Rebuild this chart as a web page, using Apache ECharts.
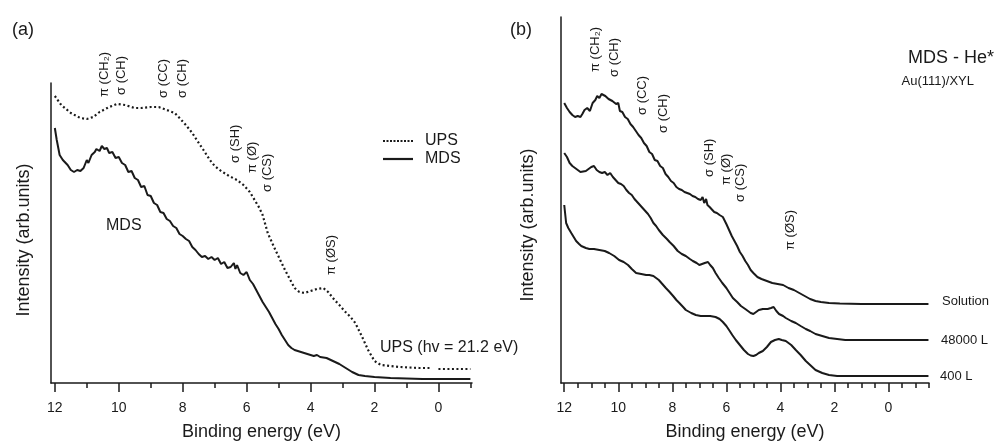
<!DOCTYPE html>
<html>
<head>
<meta charset="utf-8">
<script src="https://cdn.jsdelivr.net/npm/echarts@6/dist/echarts.min.js"></script>
<style>
  html, body { margin: 0; padding: 0; background: #fff; }
  #chart { width: 996px; height: 446px; }
</style>
</head>
<body>
<div id="chart"></div>
<script>
// binding energy (eV) / intensity (arb. units)
const upsA = [
  [12.0, 287], [11.8, 278], [11.5, 270], [11.2, 265], [11.0, 264], [10.8, 266], [10.6, 271],
  [10.3, 276], [10.05, 279], [9.8, 278], [9.5, 275], [9.3, 275], [9.0, 276], [8.75, 276],
  [8.5, 273], [8.25, 270], [8.1, 265], [7.9, 258], [7.7, 250], [7.56, 243], [7.35, 233],
  [7.15, 223], [7.0, 217], [6.8, 212], [6.55, 207], [6.3, 203], [6.1, 198], [5.9, 191],
  [5.75, 183], [5.6, 175], [5.5, 168], [5.34, 150], [5.2, 140], [5.1, 133], [4.95, 123],
  [4.8, 113], [4.65, 104], [4.5, 95], [4.35, 91], [4.2, 90], [4.0, 92], [3.8, 94], [3.6, 95],
  [3.45, 91], [3.25, 83], [3.1, 78], [2.94, 72], [2.75, 66], [2.6, 60], [2.4, 47], [2.2, 33],
  [2.0, 22], [1.8, 18], [1.5, 17], [1.2, 16], [0.9, 15.5], [0.6, 15], [0.25, 15], [0.1, '-'],
  [0.0, 14], [-0.6, 14], [-1.0, 14]
];
const mdsA = [
  [12.0, 255], [11.94, 243], [11.85, 228], [11.75, 223], [11.6, 218], [11.5, 213], [11.4, 211],
  [11.3, 213], [11.2, 212], [11.1, 215], [11.0, 223], [10.95, 220], [10.85, 228], [10.75, 231],
  [10.7, 234], [10.6, 232], [10.53, 237], [10.45, 234], [10.37, 235], [10.3, 230], [10.2, 231],
  [10.1, 225], [10.0, 226], [9.9, 220], [9.8, 218], [9.7, 211], [9.6, 212], [9.5, 205],
  [9.4, 203], [9.3, 196], [9.2, 197], [9.1, 188], [9.0, 187], [8.9, 180], [8.8, 178],
  [8.7, 171], [8.6, 170], [8.5, 164], [8.4, 162], [8.3, 157], [8.2, 155], [8.1, 149],
  [8.0, 147], [7.9, 144], [7.8, 142], [7.7, 136], [7.6, 133], [7.5, 129], [7.4, 126],
  [7.3, 127], [7.2, 124], [7.1, 126], [7.0, 123], [6.9, 125], [6.8, 119], [6.7, 121],
  [6.6, 115], [6.5, 116], [6.4, 120], [6.35, 114], [6.3, 118], [6.2, 110], [6.1, 108],
  [6.0, 111], [5.9, 103], [5.8, 99], [5.7, 93], [5.6, 87], [5.5, 81], [5.4, 76], [5.3, 71],
  [5.2, 65], [5.1, 59], [5.0, 54], [4.9, 48], [4.8, 43], [4.7, 38], [4.6, 35], [4.5, 33],
  [4.4, 32], [4.3, 31], [4.2, 30], [4.0, 28], [3.9, 27], [3.8, 28], [3.7, 26], [3.5, 25],
  [3.3, 22], [3.1, 19], [2.9, 15], [2.7, 11], [2.5, 8], [2.3, 7], [2.0, 6], [1.5, 5],
  [1.0, 4.5], [0.5, 4], [0.0, 4], [-1.0, 4]
];
const solutionB = [
  [12.0, 280], [11.9, 275], [11.8, 271], [11.7, 268], [11.6, 266], [11.5, 267], [11.4, 266],
  [11.33, 269], [11.25, 273], [11.15, 275], [11.05, 272], [10.95, 280], [10.85, 283],
  [10.78, 287], [10.7, 285], [10.62, 289], [10.55, 291], [10.48, 287], [10.42, 289],
  [10.36, 284], [10.3, 286], [10.22, 282], [10.15, 284], [10.08, 279], [10.0, 280],
  [9.94, 272], [9.85, 271], [9.75, 266], [9.65, 264], [9.55, 259], [9.45, 256], [9.35, 252],
  [9.25, 248], [9.15, 245], [9.05, 240], [8.95, 237], [8.85, 231], [8.75, 229], [8.65, 223],
  [8.55, 222], [8.45, 217], [8.35, 215], [8.25, 209], [8.15, 206], [8.05, 202], [7.95, 200],
  [7.85, 196], [7.75, 194], [7.65, 193], [7.55, 191], [7.45, 190], [7.35, 189], [7.25, 187],
  [7.15, 186], [7.05, 184], [6.95, 183], [6.88, 186], [6.82, 180], [6.75, 184], [6.7, 178],
  [6.62, 176], [6.55, 174], [6.45, 171], [6.35, 170], [6.25, 168], [6.13, 166], [6.0, 159],
  [5.9, 153], [5.8, 147], [5.7, 142], [5.6, 137], [5.5, 131], [5.4, 127], [5.3, 122],
  [5.2, 118], [5.1, 113], [5.0, 110], [4.85, 106], [4.7, 104], [4.5, 102], [4.3, 100],
  [4.1, 99], [3.9, 98], [3.7, 95], [3.5, 93], [3.3, 90], [3.1, 87], [2.9, 84], [2.7, 82],
  [2.5, 81], [2.2, 80], [1.8, 79.5], [1.0, 79], [0.0, 79], [-1.48, 79]
];
const l48000B = [
  [12.0, 230], [11.9, 226], [11.8, 220], [11.7, 217], [11.63, 215], [11.5, 213], [11.4, 211],
  [11.33, 210], [11.2, 212], [11.1, 214], [11.0, 216], [10.9, 217], [10.8, 213], [10.7, 211],
  [10.6, 210], [10.5, 211], [10.4, 208], [10.3, 210], [10.2, 206], [10.1, 203], [10.0, 200],
  [9.9, 199], [9.8, 197], [9.7, 193], [9.6, 190], [9.5, 188], [9.4, 184], [9.3, 181],
  [9.2, 178], [9.1, 175], [9.0, 172], [8.9, 169], [8.8, 165], [8.7, 160], [8.6, 157],
  [8.5, 153], [8.35, 148], [8.2, 144], [8.1, 141], [7.95, 137], [7.8, 132], [7.65, 129],
  [7.5, 127], [7.35, 124], [7.24, 122], [7.1, 120], [7.0, 118], [6.9, 119], [6.8, 120],
  [6.68, 121], [6.6, 118], [6.5, 115], [6.4, 110], [6.28, 105], [6.15, 100], [6.0, 95],
  [5.88, 90], [5.76, 85], [5.6, 81], [5.46, 77], [5.3, 74], [5.2, 72], [5.1, 70], [5.0, 69],
  [4.9, 71], [4.8, 73], [4.65, 74], [4.47, 74], [4.35, 75], [4.25, 76], [4.15, 72],
  [4.05, 69], [3.9, 67], [3.8, 65], [3.6, 62], [3.43, 60], [3.25, 57], [3.06, 54], [2.9, 52],
  [2.7, 49], [2.45, 47], [2.2, 45], [1.9, 44], [1.6, 43], [0.4, 43], [-1.48, 43]
];
const l400B = [
  [12.0, 178], [11.93, 160], [11.85, 155], [11.74, 150], [11.65, 146], [11.56, 142],
  [11.45, 139], [11.37, 137], [11.2, 135], [11.07, 134], [10.9, 134], [10.7, 133], [10.5, 132],
  [10.34, 130], [10.15, 127], [9.97, 123], [9.8, 121], [9.64, 118], [9.5, 114], [9.34, 110],
  [9.15, 109], [8.97, 108], [8.85, 108], [8.7, 107], [8.6, 105], [8.5, 103], [8.37, 99],
  [8.24, 95], [8.1, 91], [7.97, 87], [7.85, 83], [7.74, 80], [7.6, 76], [7.5, 73], [7.3, 70],
  [7.13, 68], [6.95, 67], [6.76, 67], [6.6, 67], [6.4, 66], [6.25, 64], [6.13, 61], [6.0, 57],
  [5.9, 53], [5.78, 48], [5.65, 43], [5.5, 38], [5.35, 33], [5.2, 29], [5.1, 27.5], [5.0, 27],
  [4.9, 28], [4.8, 30], [4.65, 32], [4.5, 36], [4.35, 41], [4.2, 43], [4.06, 44], [3.95, 43],
  [3.8, 42], [3.6, 38], [3.43, 33], [3.25, 28], [3.06, 22], [2.9, 18], [2.7, 13], [2.45, 10],
  [2.2, 8], [1.9, 7], [1.6, 7], [-1.48, 7]
];

const majorTicks = [12, 10, 8, 6, 4, 2, 0];
const minorTicksA = [11, 9, 7, 5, 3, 1, -1];
const minorTicksB = [11.5, 11, 10.5, 9.5, 9, 8.5, 7.5, 7, 6.5, 5.5, 5, 4.5, 3.5, 3, 2.5,
  1.5, 1, 0.5, -0.5, -1, -1.5];

// peak assignments: [text, x, y(bottom)]
const peaksA = [
  ['π (CH₂)', 104, 97], ['σ (CH)', 121, 95], ['σ (CC)', 163, 98], ['σ (CH)', 182, 98],
  ['σ (SH)', 235, 163], ['π (Ø)', 252, 173], ['σ (CS)', 267, 192], ['π (ØS)', 331, 275]
];
const peaksB = [
  ['π (CH₂)', 595, 72], ['σ (CH)', 614, 77], ['σ (CC)', 642, 115], ['σ (CH)', 663, 133],
  ['σ (SH)', 709, 177], ['π (Ø)', 726, 185], ['σ (CS)', 740, 202], ['π (ØS)', 790, 250]
];

const FONT = '"Liberation Sans", Arial, sans-serif';
const INK = '#1a1a1a';

function xAxisPair(grid, min, minor) {
  const base = {
    type: 'value', gridIndex: grid, inverse: true, min: min, max: 12.12,
    position: 'bottom', splitLine: { show: false }
  };
  return [
    Object.assign({}, base, {
      name: 'Binding energy (eV)', nameLocation: 'middle', nameGap: 40,
      nameTextStyle: { fontFamily: FONT, fontSize: 18, color: INK },
      axisLine: { onZero: false, lineStyle: { color: INK, width: 1.5 } },
      axisTick: { customValues: majorTicks, length: 9, lineStyle: { color: INK, width: 1.5 } },
      axisLabel: { customValues: majorTicks, margin: 18, fontFamily: FONT, fontSize: 14, color: INK }
    }),
    Object.assign({}, base, {
      axisLine: { show: false, onZero: false },
      axisTick: { customValues: minor, length: 5, lineStyle: { color: INK, width: 1.5 } },
      axisLabel: { show: false }
    })
  ];
}

function yAxis(grid, max) {
  return {
    type: 'value', gridIndex: grid, min: 0, max: max, position: 'left',
    axisLine: { show: true, onZero: false, lineStyle: { color: INK, width: 1.5 } },
    axisTick: { show: false }, axisLabel: { show: false }, splitLine: { show: false }
  };
}

function line(name, data, xi, yi, dotted) {
  return {
    name: name, type: 'line', data: data, xAxisIndex: xi, yAxisIndex: yi,
    showSymbol: false, symbol: 'none', silent: true, animation: false,
    lineStyle: { color: INK, width: dotted ? 2.2 : 2, type: dotted ? [2, 2.5] : 'solid' }
  };
}

function txt(text, x, y, size, align) {
  return {
    type: 'text', x: x, y: y, silent: true,
    style: { text: text, fontFamily: FONT, fontSize: size, fill: INK,
      align: align || 'left', verticalAlign: 'middle' }
  };
}

function vtxt(text, x, y, size, align) {
  return {
    type: 'text', x: x, y: y, rotation: Math.PI / 2, silent: true,
    style: { text: text, fontFamily: FONT, fontSize: size, fill: INK,
      align: align || 'left', verticalAlign: 'middle' }
  };
}

const graphics = [
  txt('(a)', 12, 30, 18),
  txt('(b)', 510, 30, 18),
  txt('MDS - He*', 994, 58, 18, 'right'),
  txt('Au(111)/XYL', 974, 81, 13, 'right'),
  txt('MDS', 106, 226, 16),
  txt('UPS (hv = 21.2 eV)', 380, 348, 16),
  // legend (a)
  { type: 'line', silent: true, shape: { x1: 383, y1: 141, x2: 413, y2: 141 },
    style: { stroke: INK, lineWidth: 2, lineDash: [2, 1.5] } },
  { type: 'line', silent: true, shape: { x1: 383, y1: 159, x2: 413, y2: 159 },
    style: { stroke: INK, lineWidth: 2.2 } },
  txt('UPS', 425, 141, 16),
  txt('MDS', 425, 159, 16),
  // curve names (b)
  txt('Solution', 942, 301, 13),
  txt('48000 L', 941, 340, 13),
  txt('400 L', 940, 376, 13),
  // y axis names
  vtxt('Intensity (arb.units)', 24, 240, 18, 'center'),
  vtxt('Intensity (arb.units)', 528, 225, 18, 'center')
];
peaksA.concat(peaksB).forEach(function (p) { graphics.push(vtxt(p[0], p[1], p[2], 13)); });

const chart = echarts.init(document.getElementById('chart'), null, { renderer: 'canvas' });
chart.setOption({
  backgroundColor: '#fff',
  animation: false,
  grid: [
    { left: 51, top: 83, width: 421, height: 300 },
    { left: 561, top: 17, width: 368, height: 366 }
  ],
  xAxis: xAxisPair(0, -1.05, minorTicksA).concat(xAxisPair(1, -1.5, minorTicksB)),
  yAxis: [yAxis(0, 300), yAxis(1, 366)],
  series: [
    line('UPS', upsA, 0, 0, true),
    line('MDS', mdsA, 0, 0, false),
    line('Solution', solutionB, 2, 1, false),
    line('48000 L', l48000B, 2, 1, false),
    line('400 L', l400B, 2, 1, false)
  ],
  graphic: graphics
});
</script>
</body>
</html>
